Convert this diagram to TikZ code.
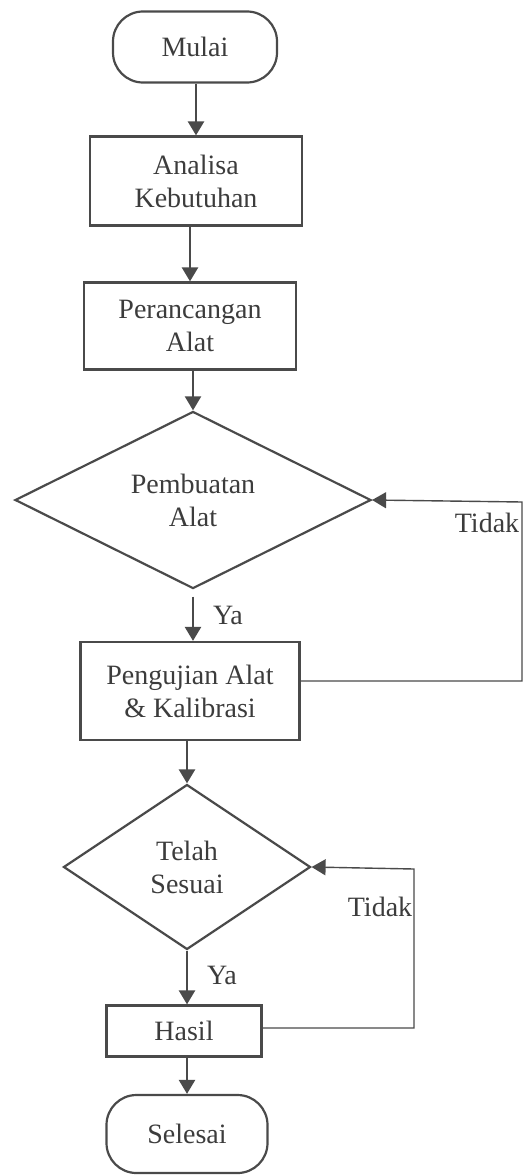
\documentclass[tikz,border=0pt]{standalone}
\usepackage{fontspec}
\setmainfont{Liberation Serif}
\usetikzlibrary{shapes.geometric,arrows.meta,calc}
\definecolor{ink}{HTML}{4A4A4A}
\definecolor{txt}{HTML}{3C3C3C}
\begin{document}
\begin{tikzpicture}[x=1pt,y=-1pt,
  every node/.style={text=txt,font=\fontsize{28}{33}\selectfont},
  box/.style={draw=ink,line width=2.2pt,rectangle,align=center,inner sep=0pt},
  term/.style={draw=ink,line width=2.2pt,rectangle,rounded corners=30pt,align=center,inner sep=0pt},
  dec/.style={draw=ink,line width=2.2pt,diamond,align=center,inner sep=0pt},
  arr/.style={draw=ink,line width=2.4pt,-{Triangle[length=14pt,width=16pt]}},
  loopline/.style={draw=ink,line width=1.4pt,-{Triangle[length=14pt,width=16pt]}},
  lbl/.style={inner sep=0pt}]
\useasboundingbox (0,0) rectangle (525,1175);
\node[term,minimum width=164pt,minimum height=71pt] (mulai) at (195,47) {Mulai};
\node[box,minimum width=212pt,minimum height=89pt] (analisa) at (196,181) {Analisa\\Kebutuhan};
\node[box,minimum width=212pt,minimum height=87pt] (rancang) at (190,326) {Perancangan\\Alat};
\node[dec,minimum width=356pt,minimum height=156pt] (buat) at (193,500) {Pembuatan\\Alat};
\node[box,minimum width=219pt,minimum height=98pt] (uji) at (190,691) {Pengujian Alat\\\& Kalibrasi};
\node[dec,minimum width=247pt,minimum height=165pt] (sesuai) at (187,867) {Telah\\Sesuai};
\node[box,minimum width=155pt,minimum height=51pt] (hasil) at (184,1031) {Hasil};
\node[term,minimum width=161pt,minimum height=78pt] (selesai) at (187,1134) {Selesai};

\coordinate (loopA) at (522,502);
\coordinate (loopB) at (414,869);
\coordinate (ujiOut) at ($(uji.east)+(0,-10)$);
\coordinate (hasilOut) at ($(hasil.east)+(0,-3)$);
\coordinate (buatOut) at ($(buat.south)+(0,7)$);

\draw[arr] (mulai.south -| analisa.north) -- (analisa.north);
\draw[arr] (analisa.south -| rancang.north) -- (rancang.north);
\draw[arr] (rancang.south -| buat.north) -- (buat.north);
\draw[arr] (buatOut) -- (buatOut |- uji.north);
\draw[arr] (uji.south -| sesuai.north) -- (sesuai.north);
\draw[arr] (sesuai.south) -- (sesuai.south |- hasil.north);
\draw[arr] (hasil.south -| selesai.north) -- (selesai.north);

\draw[loopline] (ujiOut) -- (ujiOut -| loopA) -- (loopA) -- (buat.east);
\draw[loopline] (hasilOut) -- (hasilOut -| loopB) -- (loopB) -- (sesuai.east);

\node[lbl] (ya1) at (228,615) {Ya};
\node[lbl] (tidak1) at (487,523) {Tidak};
\node[lbl] (ya2) at (222,975) {Ya};
\node[lbl] (tidak2) at (380,907) {Tidak};
\end{tikzpicture}
\end{document}
